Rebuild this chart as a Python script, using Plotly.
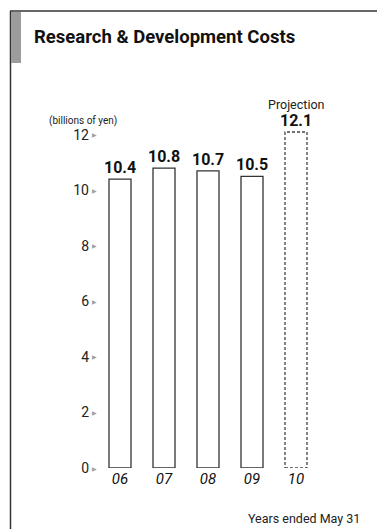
import plotly.graph_objects as go

# Research & development costs, billions of yen, fiscal years ended May 31
years = ["06", "07", "08", "09", "10"]
costs = [10.4, 10.8, 10.7, 10.5, 12.1]
is_projection = [False, False, False, False, True]

y_tick_vals = [0, 2, 4, 6, 8, 10, 12]
y_tick_text = [str(v) for v in y_tick_vals]

FONT = "Roboto, Liberation Sans, sans-serif"
W, H = 377, 529
L, R, T, B = 98, 59, 107, 61
PW, PH = W - L - R, H - T - B
X_RANGE = [-0.5, len(years) - 0.5]


def px(x):
    return (x - L) / PW


def py(y):
    return (H - B - y) / PH


actual_x = [i for i, p in enumerate(is_projection) if not p]
proj_x = [i for i, p in enumerate(is_projection) if p]
BAR_W = 0.5

fig = go.Figure()
fig.add_trace(go.Bar(
    x=actual_x,
    y=[costs[i] for i in actual_x],
    width=BAR_W,
    marker=dict(color="white", line=dict(color="#333333", width=1.3)),
    hoverinfo="skip",
))

shapes = []
for i in proj_x:
    shapes.append(dict(
        type="rect", xref="x", yref="y",
        x0=i - BAR_W / 2, x1=i + BAR_W / 2, y0=0, y1=costs[i],
        line=dict(color="#444444", width=1.3, dash="3px,2px"),
        fillcolor="rgba(0,0,0,0)",
    ))

# frame and grey tab
shapes.append(dict(type="line", xref="paper", yref="paper",
                   x0=px(10.5), x1=px(10.5), y0=py(11), y1=py(529),
                   line=dict(color="#333333", width=1.5)))
shapes.append(dict(type="line", xref="paper", yref="paper",
                   x0=px(10), x1=px(377), y0=py(11), y1=py(11),
                   line=dict(color="#333333", width=1.5)))
shapes.append(dict(type="rect", xref="paper", yref="paper",
                   x0=px(11), x1=px(21), y0=py(12), y1=py(63),
                   line=dict(width=0), fillcolor="#9c9c9c"))

annotations = []
# small grey pointers beside each y tick label
for v in y_tick_vals:
    annotations.append(dict(
        x=px(94), y=v, xref="paper", yref="y", text="▶",
        showarrow=False, xanchor="center", yanchor="middle",
        font=dict(family="DejaVu Sans", size=6, color="#a0a0a0"),
    ))

for i, v in enumerate(costs):
    annotations.append(dict(
        x=i, y=v, xref="x", yref="y", text=f"<b>{v}</b>",
        showarrow=False, yanchor="bottom", yshift=0,
        font=dict(family=FONT, size=16, color="#111111"),
    ))
for i in proj_x:
    annotations.append(dict(
        x=i, y=costs[i], xref="x", yref="y", text="Projection",
        showarrow=False, yanchor="bottom", yshift=18,
        font=dict(family=FONT, size=12.5, color="#222222"),
    ))

annotations.append(dict(
    x=px(32), y=py(37), xref="paper", yref="paper",
    text="<b>Research &amp; Development Costs</b>", showarrow=False,
    xanchor="left", yanchor="middle",
    font=dict(family=FONT, size=18.5, color="#111111"),
))
annotations.append(dict(
    x=px(83), y=py(121), xref="paper", yref="paper",
    text="(billions of yen)", showarrow=False,
    xanchor="center", yanchor="middle",
    font=dict(family=FONT, size=10, color="#222222"),
))
annotations.append(dict(
    x=px(362), y=py(518), xref="paper", yref="paper",
    text="Years ended May 31", showarrow=False,
    xanchor="right", yanchor="middle",
    font=dict(family=FONT, size=12.5, color="#222222"),
))

fig.update_layout(
    width=W, height=H,
    margin=dict(l=L, r=R, t=T, b=B, pad=0),
    paper_bgcolor="white", plot_bgcolor="white",
    showlegend=False,
    shapes=shapes,
    annotations=annotations,
    xaxis=dict(
        range=X_RANGE,
        tickvals=list(range(len(years))),
        ticktext=[f"<i>{y}</i>" for y in years],
        tickfont=dict(family=FONT, size=15, color="#111111"),
        showgrid=False, zeroline=False, showline=False, ticks="",
        fixedrange=True,
    ),
    yaxis=dict(
        range=[0, 13],
        tickvals=y_tick_vals,
        ticktext=y_tick_text,
        tickfont=dict(family=FONT, size=14, color="#222222"),
        ticklabelstandoff=8,
        showgrid=False, zeroline=False, showline=False, ticks="",
        fixedrange=True,
    ),
)

fig.write_html("out.html")
